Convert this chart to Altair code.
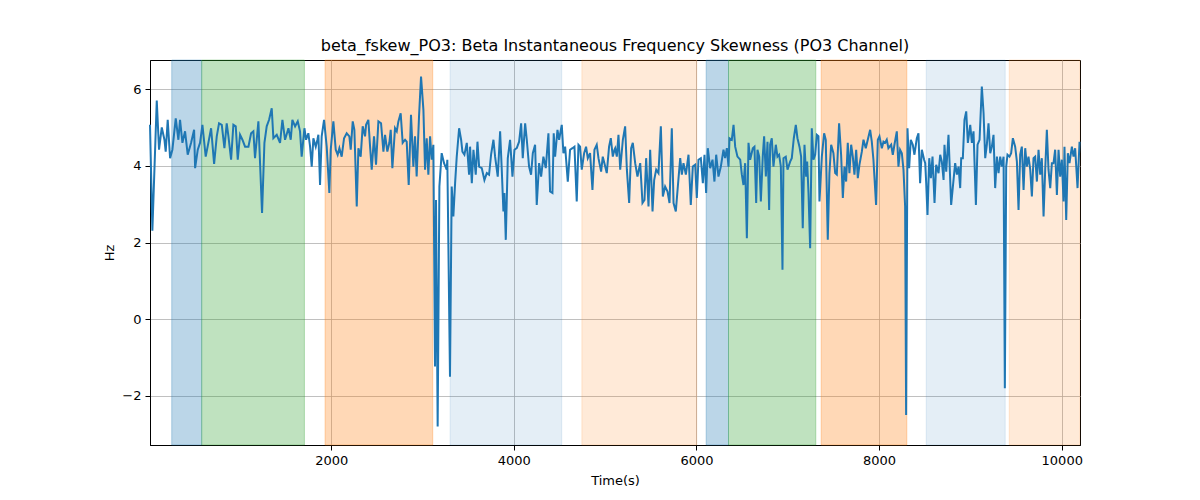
import altair as alt
import pandas as pd

# Beta instantaneous frequency skewness, PO3 channel
time_s = [
    16, 42, 90, 115, 145, 174, 188, 210, 236, 261, 298, 327, 345, 371, 400, 429, 466, 499, 510, 539,
    564, 590, 626, 655, 685, 718, 747, 772, 802, 831, 856, 875, 904, 929, 955, 977, 1002, 1028, 1057, 1094,
    1123, 1148, 1166, 1203, 1243, 1269, 1294, 1320, 1349, 1367, 1404, 1440, 1466, 1495, 1532, 1557, 1575, 1605, 1634, 1659,
    1677, 1707,
    1725, 1750, 1769, 1787, 1805, 1831, 1849, 1860, 1878, 1896, 1922, 1951, 1980, 1995, 2024, 2050, 2071, 2090, 2115, 2141,
    2170, 2199, 2214, 2236, 2254, 2280, 2298, 2323, 2345, 2371, 2382, 2407, 2426, 2444, 2469, 2491, 2517, 2546, 2572, 2590,
    2615, 2637, 2652, 2670, 2699, 2718, 2736, 2761, 2783, 2809, 2827, 2849, 2874, 2900, 2918, 2936, 2962, 2984, 3010, 3028,
    3046, 3064, 3083, 3101, 3119, 3137, 3148, 3166, 3185, 3210, 3236, 3265, 3272, 3301, 3320, 3338,
    3357, 3375, 3401, 3423, 3437, 3459, 3485, 3510, 3521, 3540, 3558, 3583, 3602, 3620, 3649, 3678, 3704, 3729, 3751, 3777,
    3795, 3824, 3850, 3868, 3886, 3897, 3912, 3934, 3959, 3985, 4007, 4032, 4058, 4080, 4098, 4124, 4142, 4167, 4189, 4208,
    4233, 4251, 4277, 4299, 4324, 4350, 4379, 4397, 4423, 4437, 4452, 4478, 4496, 4525, 4543, 4562, 4591, 4616, 4642, 4664,
    4689, 4708, 4726, 4744, 4770, 4791, 4810, 4835, 4861, 4883, 4908, 4927, 4956, 4974, 4992, 5018, 5043, 5062, 5084, 5102,
    5110, 5128, 5146, 5165, 5194, 5219, 5238, 5263, 5285, 5303, 5329, 5354, 5384, 5409, 5431, 5449, 5475, 5493, 5519, 5537,
    5559, 5584, 5610, 5632, 5657, 5683, 5705, 5730, 5749, 5774, 5796, 5822, 5840, 5858, 5884, 5913, 5938, 5960, 5986, 6004,
    6022, 6048, 6070, 6088, 6106, 6124, 6150, 6176, 6197, 6216, 6241, 6267, 6296, 6314, 6333, 6351, 6362, 6387, 6406, 6424,
    6449, 6479, 6497, 6515, 6533, 6552, 6570, 6588, 6617, 6635, 6654, 6668, 6687, 6705, 6727, 6741, 6760, 6778, 6796,
    6807, 6825, 6843, 6869, 6887, 6905, 6924, 6942, 6953, 6978, 6997, 7026, 7044, 7066, 7088, 7106, 7128, 7146, 7164, 7183,
    7201, 7212, 7227, 7245, 7263, 7281, 7300, 7318, 7336, 7347, 7373, 7398, 7416, 7438, 7456, 7475, 7500, 7519, 7537, 7562,
    7584, 7603, 7621, 7639, 7657, 7675, 7694, 7712, 7730, 7749, 7767, 7785, 7811, 7829, 7854, 7876, 7902, 7920, 7938, 7967,
    7986, 8004, 8030, 8048, 8066, 8084, 8102, 8132, 8150, 8168, 8194, 8212, 8230, 8249, 8267, 8285, 8296, 8311, 8329, 8347,
    8369, 8387, 8413, 8431, 8449, 8468, 8493,
    8505, 8516, 8530, 8549, 8567, 8585, 8607, 8625, 8651, 8669, 8687, 8706, 8716, 8735, 8760, 8789, 8808, 8833, 8852, 8870,
    8888, 8899, 8917, 8935, 8954, 8972, 8998, 9016, 9034, 9060, 9078, 9100, 9125, 9144, 9162, 9180, 9198, 9217, 9235, 9253,
    9271, 9290, 9308, 9326, 9344, 9363, 9377, 9392, 9406, 9428, 9446, 9465, 9490, 9509, 9527, 9545, 9563, 9582, 9600, 9618,
    9636, 9655, 9673, 9691, 9709, 9728, 9746, 9764, 9782, 9801, 9819, 9837, 9855, 9874, 9892, 9910, 9928, 9947, 9965, 9983,
    10001, 10020, 10030, 10049, 10067, 10085, 10111, 10129, 10147, 10173, 10195,
]
hz = [
    5.07, 2.31, 5.7, 4.42, 5.0, 4.68, 4.37, 5.2, 4.2, 4.42, 5.24, 4.68, 5.2, 4.6, 4.9, 4.29, 4.6, 4.94, 3.94, 4.42,
    4.6, 5.07, 4.24, 4.6, 4.98, 4.05, 4.77, 5.11, 5.07, 4.46, 5.11, 4.77, 4.16, 5.07, 5.03, 4.16, 4.81, 4.68, 4.5, 4.5,
    4.85, 4.9, 4.2, 5.16, 2.77, 4.6, 5.03, 5.2, 5.5, 4.72, 4.81, 4.6, 5.2, 4.68, 4.98, 4.68, 5.2, 5.03, 5.16, 4.9,
    4.24, 4.98,
    4.68, 4.85, 4.5, 3.98, 4.72, 4.5, 4.68, 4.81, 3.5, 4.77, 5.2, 4.5, 3.29, 4.42, 5.16, 4.42, 4.29, 4.46, 4.24, 4.72,
    4.85, 4.77, 4.42, 5.16, 4.94, 2.94, 4.46, 4.24, 5.03, 4.77, 5.07, 5.2, 4.5, 3.9, 4.77, 4.03, 5.16, 5.11, 4.37, 4.81,
    4.37, 4.6, 4.94, 3.94, 4.98, 4.9, 5.16, 5.37, 4.6, 4.68, 4.63, 3.5, 5.33, 3.98, 4.77, 3.72, 5.29, 6.33, 5.46, 3.9,
    4.72, 3.77, 4.77, 4.16, 4.55, -1.23, 3.11, -2.8, 3.46, 4.33, 4.07, 3.9, 4.16, -1.5, 3.46, 2.68,
    3.55, 4.24, 4.98, 4.68, 4.37, 4.29, 4.6, 3.77, 4.5, 3.55, 4.42, 3.77, 4.63, 3.98, 3.94, 3.63, 3.81, 3.77, 4.29, 4.68,
    4.24, 3.72, 4.9, 3.9, 2.81, 3.29, 2.07, 4.2, 4.68, 3.72, 4.42, 4.46, 4.63, 5.11, 4.2, 5.11, 4.68, 3.98, 3.77, 4.33,
    4.55, 2.98, 4.07, 3.72, 4.24, 3.94, 4.85, 3.33, 3.29, 4.85, 4.24, 4.94, 4.68, 5.07, 4.33, 4.5, 3.59, 4.42, 4.46, 4.5,
    3.07, 4.55, 4.5, 3.9, 4.33, 4.5, 4.2, 4.33, 3.37, 4.42, 4.55, 4.2, 3.85, 4.24, 4.07, 3.81, 4.5, 4.72, 4.24, 4.42,
    4.46, 4.24, 4.81, 3.9, 4.68, 5.03, 3.9, 3.03, 4.46, 4.6, 4.07, 3.72, 4.07, 3.03, 3.11, 4.2, 2.94, 4.42, 2.81, 3.63,
    3.9, 3.81, 5.03, 3.2, 3.46, 3.33, 3.03, 4.98, 3.03, 2.81, 3.46, 4.2, 3.77, 4.07, 3.77, 4.29, 2.98, 3.98, 4.03, 3.16,
    4.16, 4.2, 3.55, 4.29, 3.29, 4.46, 3.94, 4.16, 3.59, 4.29, 3.72, 3.98, 4.42, 4.2, 4.46, 3.98, 4.72, 4.68, 5.07, 4.5,
    4.24, 4.16, 3.77, 3.5, 4.07, 2.11, 4.6, 4.16, 4.46, 4.5, 3.03, 4.42, 4.24, 3.07, 4.29, 4.77, 3.72, 4.63, 2.85,
    4.55, 4.72, 3.98, 4.55, 4.24, 4.29, 3.98, 1.29, 4.2, 4.24, 3.9, 4.11, 4.2, 4.72, 5.07, 4.72, 4.5, 4.24, 2.37, 4.55,
    3.72, 4.11, 3.29, 1.85, 4.98, 4.16, 4.29, 4.81, 4.77, 3.07, 4.24, 4.85, 4.68, 2.07, 3.81, 4.55, 4.33, 3.81, 3.77, 5.11,
    4.29, 3.16, 3.98, 3.59, 4.6, 3.81, 4.55, 4.24, 3.77, 4.42, 3.68, 4.03, 4.37, 4.68, 4.46, 4.68, 4.94, 4.63, 4.16, 2.98,
    4.68, 4.77, 4.46, 4.63, 4.6, 4.68, 4.46, 4.55, 4.29, 4.55, 4.9, 3.98, 4.42, 4.33, 3.9, 2.94, -2.5, 4.98, 3.94, 4.68,
    4.55, 4.29, 4.72, 4.85, 3.55, 4.42, 4.16,
    4.07, 3.55, 2.72, 4.2, 3.68, 4.24, 3.03, 4.03, 3.81, 4.29, 4.11, 3.63, 4.55, 3.85, 4.81, 2.98, 3.46, 4.07, 3.77, 3.98,
    3.42, 4.2, 4.2, 5.2, 5.42, 4.6, 5.07, 4.6, 4.9, 2.98, 4.55, 4.68, 6.07, 5.37, 4.2, 4.55, 5.11, 4.33, 4.5, 4.81,
    3.42, 4.24, 3.81, 4.24, 3.98, 4.24, -1.8, 3.98, 4.29, 4.24, 4.33, 4.72, 4.5, 4.11, 2.85, 4.29, 4.5, 3.37, 4.46, 3.98,
    4.24, 3.9, 3.2, 4.2, 4.24, 3.59, 4.42, 3.77, 4.2, 2.68, 3.9, 4.94, 3.9, 3.42, 4.07, 4.07, 4.42, 3.24, 4.42, 3.72,
    4.16, 3.07, 4.5, 2.59, 4.33, 4.07, 4.5, 4.24, 4.46, 3.42, 4.63,
]

# shaded epochs
span_start = [254, 582, 1933, 3302, 4745, 6106, 6351, 7366, 8516, 9425]
span_end = [582, 1707, 3112, 4525, 6004, 6351, 7307, 8304, 9381, 10200]
span_color = ["#1f77b4", "#2ca02c", "#ff7f0e", "#1f77b4", "#ff7f0e",
              "#1f77b4", "#2ca02c", "#ff7f0e", "#1f77b4", "#ff7f0e"]
span_alpha = [0.3, 0.3, 0.3, 0.12, 0.16, 0.3, 0.3, 0.3, 0.12, 0.16]

line_df = pd.DataFrame({"time": time_s, "hz": hz})
span_df = pd.DataFrame({"start": span_start, "end": span_end,
                        "color": span_color, "alpha": span_alpha})

x_scale = alt.Scale(domain=[16, 10200], nice=False, zero=False)
y_scale = alt.Scale(domain=[-3.28, 6.76], nice=False, zero=False)
x_axis = alt.Axis(values=[2000, 4000, 6000, 8000, 10000], title="Time(s)", format="d", titlePadding=7)
y_axis = alt.Axis(values=[-2, 0, 2, 4, 6], title="Hz")

spans = (
    alt.Chart(span_df)
    .mark_rect(strokeWidth=1)
    .encode(
        x=alt.X("start:Q", scale=x_scale, axis=x_axis),
        x2="end:Q",
        color=alt.Color("color:N", scale=None),
        stroke=alt.Stroke("color:N", scale=None),
        fillOpacity=alt.FillOpacity("alpha:Q", scale=None),
        strokeOpacity=alt.StrokeOpacity("alpha:Q", scale=None),
    )
)

line = (
    alt.Chart(line_df)
    .mark_line(color="#1f77b4", strokeWidth=2)
    .encode(
        x=alt.X("time:Q", scale=x_scale, axis=x_axis),
        y=alt.Y("hz:Q", scale=y_scale, axis=y_axis),
    )
)

chart = (
    alt.layer(spans, line)
    .properties(
        width=930,
        height=385,
        title=alt.TitleParams(
            "beta_fskew_PO3: Beta Instantaneous Frequency Skewness (PO3 Channel)",
            fontSize=16, fontWeight="normal", font="DejaVu Sans", color="black", offset=6,
        ),
        autosize=alt.AutoSizeParams(type="none"),
        padding={"left": 142, "top": 52, "right": 112, "bottom": 46},
    )
    .configure_view(stroke="black", strokeWidth=1)
    .configure_axis(
        grid=True, gridColor="#b0b0b0", gridWidth=0.8,
        domainColor="black", tickColor="black", tickSize=5,
        labelFont="DejaVu Sans", labelFontSize=13, labelColor="black", labelPadding=4,
        titleFont="DejaVu Sans", titleFontSize=13, titleFontWeight="normal", titleColor="black",
        titlePadding=5,
    )
)

chart.save("out.html", embed_options={"renderer": "svg", "actions": False})
